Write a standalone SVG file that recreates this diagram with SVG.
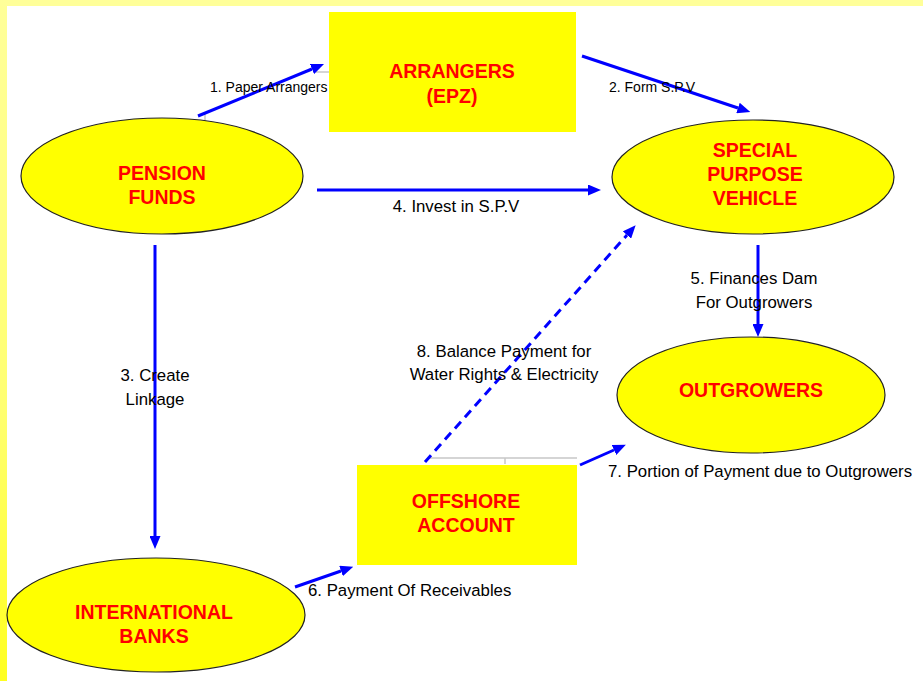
<svg xmlns="http://www.w3.org/2000/svg" width="923" height="681" viewBox="0 0 923 681">
<defs>
<linearGradient id="leftBand" x1="0" y1="0" x2="0" y2="1">
<stop offset="0" stop-color="#FFFF99"/>
<stop offset="0.6" stop-color="#FFFF70"/>
<stop offset="1" stop-color="#FFFF20"/>
</linearGradient>
<marker id="ah" markerUnits="userSpaceOnUse" markerWidth="13" markerHeight="11" refX="0" refY="5.5" orient="auto">
<path d="M0,0 L13,5.5 L0,11 z" fill="#0000FF"/>
</marker>
<style>
.node{fill:#FFFF00;stroke:#222;stroke-width:1.2}
.box{fill:#FFFF00;stroke:none}
.nt{font-family:"Liberation Sans",Arial,sans-serif;font-weight:bold;font-size:19.5px;fill:#FF0000;text-anchor:middle}
.lb{font-family:"Liberation Sans",Arial,sans-serif;font-size:16.8px;fill:#000}
.lbs{font-family:"Liberation Sans",Arial,sans-serif;font-size:14px;fill:#000}
.c{fill:none;stroke:#0000FF;stroke-width:3;marker-end:url(#ah)}
.d{stroke-dasharray:9,6}
.stub{fill:none;stroke:#C8C8C8;stroke-width:1.5}
</style>
</defs>
<rect x="0" y="0" width="923" height="681" fill="#FFFFFF"/>
<rect x="0" y="0" width="923" height="6" fill="#FFFF99"/>
<rect x="0" y="0" width="7" height="681" fill="url(#leftBand)"/>

<g id="stubs">
<path class="stub" d="M316,72 H329 M205,113 V121 M428,458 H577 M505,458 V464"/>
</g>

<g id="arrangers">
<rect class="box" x="329" y="12" width="247" height="120"/>
<text class="nt" x="452" y="78">ARRANGERS</text>
<text class="nt" x="452" y="103">(EPZ)</text>
</g>

<g id="pension-funds">
<ellipse class="node" cx="162" cy="176" rx="141" ry="58"/>
<text class="nt" x="162" y="180">PENSION</text>
<text class="nt" x="162" y="204">FUNDS</text>
</g>

<g id="spv">
<ellipse class="node" cx="753" cy="177" rx="141" ry="57"/>
<text class="nt" x="755" y="157">SPECIAL</text>
<text class="nt" x="755" y="181">PURPOSE</text>
<text class="nt" x="755" y="205">VEHICLE</text>
</g>

<g id="outgrowers">
<ellipse class="node" cx="751" cy="395" rx="134" ry="58"/>
<text class="nt" x="751" y="397">OUTGROWERS</text>
</g>

<g id="offshore-account">
<rect class="box" x="357" y="465" width="220" height="100"/>
<text class="nt" x="466" y="508">OFFSHORE</text>
<text class="nt" x="466" y="532">ACCOUNT</text>
</g>

<g id="international-banks">
<ellipse class="node" cx="156" cy="615" rx="149" ry="57"/>
<text class="nt" x="154" y="619">INTERNATIONAL</text>
<text class="nt" x="154" y="643">BANKS</text>
</g>

<g id="connectors">
<line class="c" x1="198" y1="116" x2="312" y2="69"/>
<line class="c" x1="582" y1="56" x2="738" y2="108"/>
<line class="c" x1="155" y1="245" x2="155" y2="536"/>
<line class="c" x1="317" y1="190" x2="588" y2="190"/>
<line class="c" x1="758" y1="245" x2="758" y2="324"/>
<line class="c" x1="295" y1="587" x2="341" y2="571"/>
<line class="c" x1="580" y1="465" x2="614" y2="450"/>
<line class="c d" x1="425" y1="462" x2="627" y2="235"/>
</g>

<g id="labels">
<text class="lbs" x="210" y="92">1. Paper Arrangers</text>
<text class="lbs" x="609" y="92">2. Form S.P.V</text>
<text class="lb" x="155" y="381" text-anchor="middle">3. Create</text>
<text class="lb" x="155" y="405" text-anchor="middle">Linkage</text>
<text class="lb" x="456" y="212" text-anchor="middle">4. Invest in S.P.V</text>
<text class="lb" x="754" y="284" text-anchor="middle">5. Finances Dam</text>
<text class="lb" x="754" y="308" text-anchor="middle">For Outgrowers</text>
<text class="lb" x="308" y="596">6. Payment Of Receivables</text>
<text class="lb" x="608" y="477">7. Portion of Payment due to Outgrowers</text>
<text class="lb" x="504" y="357" text-anchor="middle">8. Balance Payment for</text>
<text class="lb" x="504" y="380" text-anchor="middle">Water Rights &amp; Electricity</text>
</g>
</svg>
